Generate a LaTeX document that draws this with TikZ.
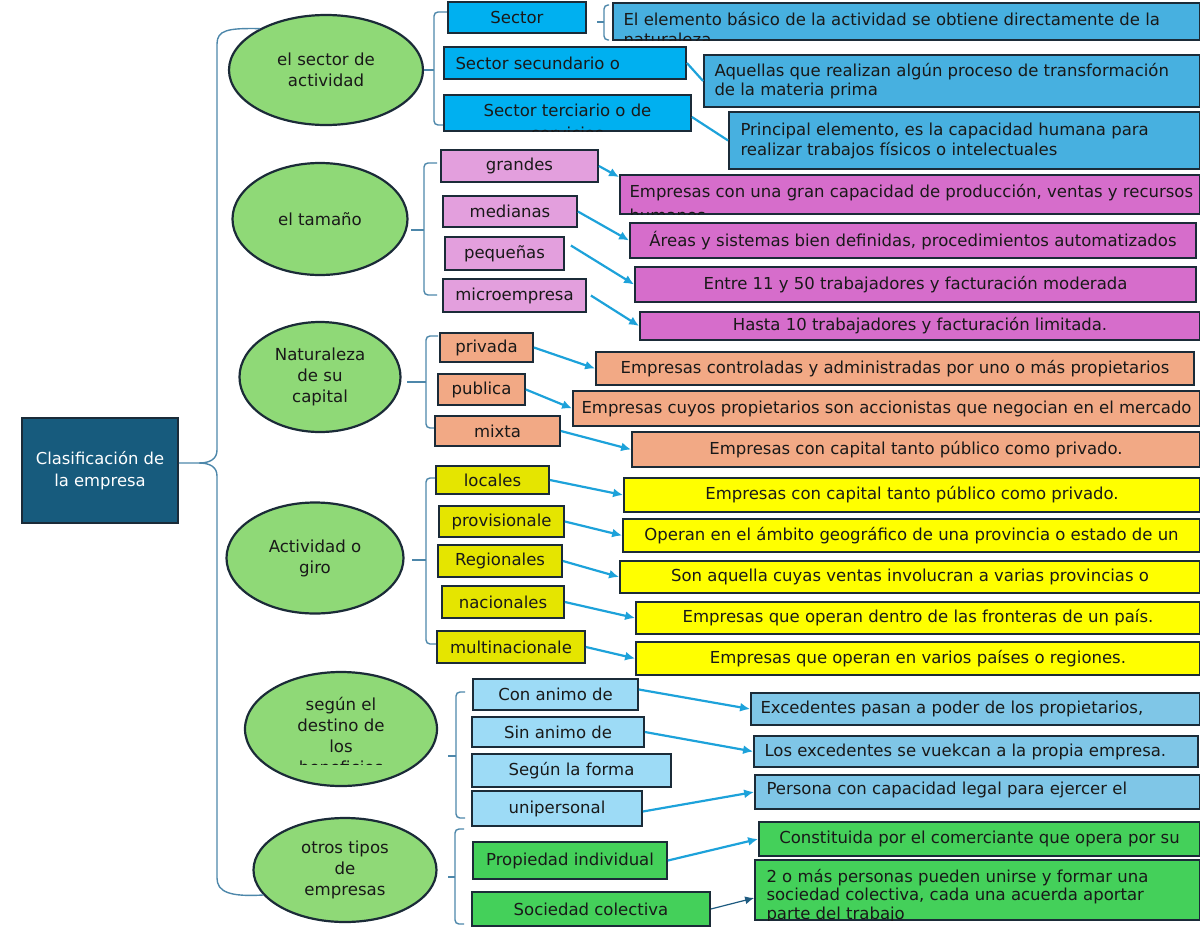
\documentclass[tikz,border=0pt]{standalone}
\usepackage{fontspec}
\setmainfont{DejaVu Sans}
\usetikzlibrary{shapes.geometric,arrows.meta}

\definecolor{rootblue}{HTML}{175B7D}
\definecolor{bubblegreen}{HTML}{8FD977}
\definecolor{boxline}{HTML}{1B2B38}
\definecolor{bracegray}{HTML}{4D87AA}
\definecolor{linkblue}{HTML}{1DA2DA}
\definecolor{darklink}{HTML}{1E5B80}
\definecolor{seccyan}{HTML}{00B0F0}
\definecolor{secblue}{HTML}{47B0E0}
\definecolor{sizepink}{HTML}{E39FDD}
\definecolor{sizedesc}{HTML}{D66DCB}
\definecolor{salmon}{HTML}{F2A985}
\definecolor{girolive}{HTML}{E5E500}
\definecolor{giroyellow}{HTML}{FFFF00}
\definecolor{destsky}{HTML}{9DDBF6}
\definecolor{destdesc}{HTML}{7FC6E7}
\definecolor{otrogreen}{HTML}{44D05A}

\begin{document}
\begin{tikzpicture}[x=0.5pt,y=-0.5pt,
  every node/.style={font=\fontsize{8.25}{9.8}\selectfont, text=black!90},
  box/.style={draw=boxline, line width=0.9pt, inner xsep=3pt, inner ysep=0pt, align=center},
  note/.style={inner sep=0pt, align=left},
  bubble/.style={ellipse, draw=boxline, line width=1.1pt, fill=bubblegreen, inner sep=0pt, align=center, font=\fontsize{8.3}{10.5}\selectfont},
  brace/.style={draw=bracegray, line width=0.7pt},
  link/.style={draw=linkblue, line width=1.1pt},
  arr/.style={link, -{Latex[length=5pt,width=4.5pt]}},
  thinarr/.style={draw=darklink, line width=0.6pt, -{Latex[length=4.5pt,width=4pt]}}]
\useasboundingbox (0,0) rectangle (1200,927);

% root and bubbles
\node[box, fill=rootblue, text=white, minimum width=78pt, minimum height=52.5pt, font=\fontsize{8.2}{11}\selectfont] (root) at (100,470.5) {Clasificación de\\la empresa};
\node[bubble, minimum width=97pt, minimum height=55pt] (sector) at (326,70) {el sector de\\actividad};
\node[bubble, minimum width=87.5pt, minimum height=56pt] (tamano) at (320,219) {el tamaño};
\node[bubble, minimum width=80.5pt, minimum height=55pt] (capital) at (320,377) {Naturaleza\\de su\\capital};
\node[bubble, minimum width=88.5pt, minimum height=55.5pt] (giro) at (315,558) {Actividad o\\giro};
\node[bubble, minimum width=96pt, minimum height=57pt] (destino) at (341,729) {};
\begin{scope}
  \clip (240,680) rectangle (440,764);
  \node[note, anchor=north, align=center, font=\fontsize{8.3}{10.5}\selectfont] (destinotxt) at (341,697) {según el\\destino de\\los\\beneficios};
\end{scope}
\node[bubble, minimum width=91.5pt, minimum height=52pt] (otros) at (345,870) {otros tipos\\de\\empresas};

% big brace
\draw[brace] (sector.148) .. controls (228,28) and (217,30) .. (217,44) -- (217,450)
  .. controls (217,459) and (210,463) .. (199,463) -- ([yshift=3.75pt]root.east);
\draw[brace] (199,463) .. controls (210,463) and (217,467) .. (217,476) -- (217,878)
  .. controls (217,892) and (230,897) .. (otros.197);

% small braces
\draw[brace] (sector.east) -- (434,70);
\draw[brace, rounded corners=2pt] (447,12) -| (434,125) -- (447,125);
\draw[brace] (411,230) -- (424,230);
\draw[brace, rounded corners=2pt] (437,163) -| (424,295) -- (437,295);
\draw[brace] (407,382) -- (426,382);
\draw[brace, rounded corners=2pt] (438,336) -| (426,428) -- (436,428);
\draw[brace] (412,560) -- (426,560);
\draw[brace, rounded corners=2pt] (436,478) -| (426,644) -- (437,644);
\draw[brace] (448,756) -- (456,756);
\draw[brace, rounded corners=2pt] (465,692) -| (456,818) -- (465,818);
\draw[brace] (448,877) -- (455,877);
\draw[brace, rounded corners=2pt] (464,829) -| (455,924) -- (464,924);
\draw[brace] (597,22) -- (604,22);
\draw[brace, rounded corners=2pt] (609,5) -| (604,40) -- (609,40);

% sector de actividad
\node[box, fill=seccyan, minimum width=69pt, minimum height=15.5pt] (sec1) at (517,17.5) {Sector};
\node[box, fill=seccyan, minimum width=121pt, minimum height=16pt] (sec2) at (565,63) {};
\node[note, anchor=west] (sec2txt) at ([xshift=6pt]sec2.west) {Sector secundario o};
\node[box, fill=seccyan, minimum width=123.5pt, minimum height=18pt] (sec3) at (567.5,113) {};
\begin{scope}
  \clip (sec3.south west) rectangle (sec3.north east);
  \node[note, anchor=north, align=center, font=\fontsize{8.25}{11.5}\selectfont] (sec3txt) at ([yshift=-4.75pt]sec3.north) {Sector terciario o de\\servicios};
\end{scope}
\node[box, fill=secblue, minimum width=293.5pt, minimum height=18.5pt] (s1d) at (906.5,21.5) {};
\begin{scope}
  \clip (s1d.south west) rectangle (s1d.north east);
  \node[note, anchor=north west, font=\fontsize{8.25}{10}\selectfont] (s1dtxt) at ([xshift=5.5pt,yshift=-4.75pt]s1d.north west) {El elemento básico de la actividad se obtiene directamente de la\\naturaleza};
\end{scope}
\node[box, fill=secblue, minimum width=248pt, minimum height=26pt] (s2d) at (952,81) {};
\node[note, anchor=west] (s2dtxt) at ([xshift=5.5pt]s2d.west) {Aquellas que realizan algún proceso de transformación\\de la materia prima};
\node[box, fill=secblue, minimum width=235.5pt, minimum height=28.5pt] (s3d) at (964.5,140.5) {};
\node[note, anchor=west, font=\fontsize{8.25}{10}\selectfont] (s3dtxt) at ([xshift=6pt]s3d.west) {Principal elemento, es la capacidad humana para\\realizar trabajos físicos o intelectuales};
\draw[link] (sec2.east) -- (s2d.west);
\draw[link] ([yshift=-2pt]sec3.east) -- (s3d.west);

% tamano
\node[box, fill=sizepink, minimum width=78.5pt, minimum height=16pt] (grandes) at (519.5,166) {grandes};
\node[box, fill=sizepink, minimum width=67pt, minimum height=15.5pt] (medianas) at (510,211.5) {medianas};
\node[box, fill=sizepink, minimum width=59.5pt, minimum height=16.5pt] (pequenas) at (504.5,253.5) {pequeñas};
\node[box, fill=sizepink, minimum width=71.5pt, minimum height=16.5pt] (micro) at (514.5,295.5) {microempresa};
\node[box, fill=sizedesc, minimum width=290pt, minimum height=19.5pt] (td1) at (910,194.5) {};
\begin{scope}
  \clip (td1.south west) rectangle (td1.north east);
  \node[note, anchor=north west, font=\fontsize{8.25}{12}\selectfont] (td1txt) at ([xshift=5pt,yshift=-4.75pt]td1.north west) {Empresas con una gran capacidad de producción, ventas y recursos\\humanos};
\end{scope}
\node[box, fill=sizedesc, minimum width=283pt, minimum height=17.5pt] (td2) at (913,240.5) {Áreas y sistemas bien definidas, procedimientos automatizados};
\node[box, fill=sizedesc, minimum width=280.5pt, minimum height=17.5pt] (td3) at (915.5,284.5) {Entre 11 y 50 trabajadores y facturación moderada};
\node[box, fill=sizedesc, minimum width=280pt, minimum height=14pt] (td4) at (920,326) {Hasta 10 trabajadores y facturación limitada.};
\draw[arr] (grandes.east) -- ([yshift=-1.5pt]td1.north west);
\draw[arr] (medianas.east) -- (td2.west);
\draw[arr] ([xshift=3pt,yshift=4pt]pequenas.east) -- (td3.west);
\draw[arr] ([xshift=2pt]micro.east) -- (td4.west);

% naturaleza de su capital
\node[box, fill=salmon, minimum width=46.5pt, minimum height=14.5pt] (privada) at (486.5,347.5) {privada};
\node[box, fill=salmon, minimum width=43.5pt, minimum height=15.5pt] (publica) at (481.5,389.5) {publica};
\node[box, fill=salmon, minimum width=62.5pt, minimum height=15pt] (mixta) at (497.5,431) {mixta};
\node[box, fill=salmon, minimum width=299pt, minimum height=16.5pt] (nd1) at (895,368.5) {Empresas controladas y administradas por uno o más propietarios};
\node[box, fill=salmon, minimum width=313.5pt, minimum height=17.5pt] (nd2) at (886.5,408.5) {Empresas cuyos propietarios son accionistas que negocian en el mercado};
\node[box, fill=salmon, minimum width=284pt, minimum height=17.5pt] (nd3) at (916,449.5) {Empresas con capital tanto público como privado.};
\draw[arr] (privada.east) -- (nd1.west);
\draw[arr] (publica.east) -- (nd2.west);
\draw[arr] (mixta.east) -- (nd3.west);

% actividad o giro
\node[box, fill=girolive, minimum width=56.5pt, minimum height=14pt] (locales) at (492.5,480) {locales};
\node[box, fill=girolive, minimum width=62.5pt, minimum height=15.5pt] (provin) at (501.5,521.5) {provisionale};
\node[box, fill=girolive, minimum width=62pt, minimum height=16pt] (region) at (500,561) {Regionales};
\node[box, fill=girolive, minimum width=61pt, minimum height=16pt] (nacion) at (503,602) {nacionales};
\node[box, fill=girolive, minimum width=74pt, minimum height=16pt] (multi) at (511,647) {multinacionale};
\node[box, fill=giroyellow, minimum width=288pt, minimum height=17pt] (ad1) at (912,495) {Empresas con capital tanto público como privado.};
\node[box, fill=giroyellow, minimum width=288.5pt, minimum height=16.5pt] (ad2) at (911.5,535.5) {Operan en el ámbito geográfico de una provincia o estado de un};
\node[box, fill=giroyellow, minimum width=290pt, minimum height=16pt] (ad3) at (910,577) {Son aquella cuyas ventas involucran a varias provincias o};
\node[box, fill=giroyellow, minimum width=282pt, minimum height=16pt] (ad4) at (918,618) {Empresas que operan dentro de las fronteras de un país.};
\node[box, fill=giroyellow, minimum width=282pt, minimum height=16.5pt] (ad5) at (918,658.5) {Empresas que operan en varios países o regiones.};
\draw[arr] (locales.east) -- (ad1.west);
\draw[arr] (provin.east) -- (ad2.west);
\draw[arr] (region.east) -- (ad3.west);
\draw[arr] (nacion.east) -- (ad4.west);
\draw[arr] (multi.east) -- (ad5.west);

% destino de los beneficios
\node[box, fill=destsky, minimum width=82.5pt, minimum height=15.5pt] (con) at (555.5,694.5) {Con animo de};
\node[box, fill=destsky, minimum width=86pt, minimum height=15pt] (sin) at (558,732) {Sin animo de};
\node[box, fill=destsky, minimum width=99.5pt, minimum height=16.5pt] (forma) at (571.5,770.5) {Según la forma};
\node[box, fill=destsky, minimum width=85pt, minimum height=17.5pt] (uni) at (557,808.5) {unipersonal};
\node[box, fill=destdesc, minimum width=224.5pt, minimum height=16pt] (dd1) at (975.5,709) {};
\node[note, anchor=west] (dd1txt) at ([xshift=5pt]dd1.west) {Excedentes pasan a poder de los propietarios,};
\node[box, fill=destdesc, minimum width=222pt, minimum height=15.5pt] (dd2) at (976,751.5) {};
\node[note, anchor=west] (dd2txt) at ([xshift=5.5pt]dd2.west) {Los excedentes se vuekcan a la propia empresa.};
\node[box, fill=destdesc, minimum width=222.5pt, minimum height=17pt] (dd3) at (977.5,792) {};
\node[note, anchor=west] (dd3txt) at ([xshift=6pt,yshift=1pt]dd3.west) {Persona con capacidad legal para ejercer el};
\draw[arr] ([yshift=2.5pt]con.east) -- (dd1.west);
\draw[arr] (sin.east) -- (dd2.west);
\draw[arr] ([yshift=-1.5pt]uni.east) -- (dd3.west);

% otros tipos
\node[box, fill=otrogreen, minimum width=97pt, minimum height=18.5pt] (prop) at (570,860.5) {Propiedad individual};
\node[box, fill=otrogreen, minimum width=119pt, minimum height=17pt] (soc) at (591,909) {Sociedad colectiva};
\node[box, fill=otrogreen, minimum width=220.5pt, minimum height=17pt] (od1) at (979.5,839) {Constituida por el comerciante que opera por su};
\node[box, fill=otrogreen, minimum width=222.5pt, minimum height=30pt] (od2) at (977.5,890) {};
\begin{scope}
  \clip (od2.south west) rectangle (od2.north east);
  \node[note, anchor=north west, font=\fontsize{8.25}{9.3}\selectfont] (od2txt) at ([xshift=6pt,yshift=-4.75pt]od2.north west) {2 o más personas pueden unirse y formar una\\sociedad colectiva, cada una acuerda aportar\\parte del trabajo};
\end{scope}
\draw[arr] (prop.east) -- (od1.west);
\draw[thinarr] (soc.east) -- ([yshift=-4pt]od2.west);
\end{tikzpicture}
\end{document}
